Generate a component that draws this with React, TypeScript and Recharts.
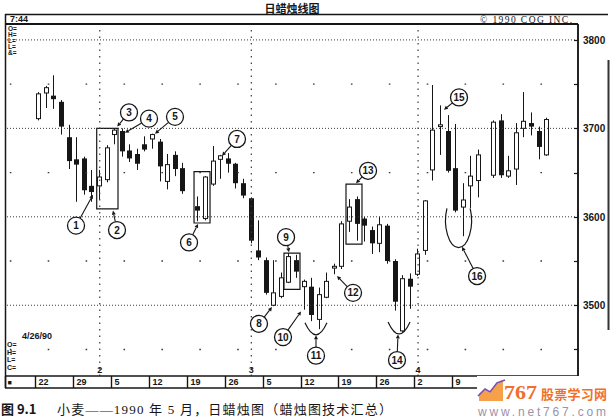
import React from 'react';
import {
  ComposedChart,
  Bar,
  XAxis,
  YAxis,
  ReferenceLine,
  ReferenceArea,
  ReferenceDot,
} from 'recharts';

const W = 610;
const H = 420;
const INK = '#161616';
const SANS = '"Liberation Sans", Arial, sans-serif';
const CJK = '"Noto Sans CJK SC", sans-serif';

// May 1990 wheat, one bar per trading day from Jan 22 to Apr 25 (null = market closed)
const opens = [
  3711, 3740, 3737, 3730, 3690, 3665, 3666, 3635, 3635, 3642,
  3693, 3697, 3675, 3671, 3682, 3688, 3685, 3640, 3670, 3655,
  null, 3612, 3598, 3637, 3665, 3666, 3660, 3638, 3621, 3562,
  3551, 3500, 3510, 3526, 3551, 3521, 3521, 3484, 3509, 3542,
  3544, 3595, 3620, 3598, 3585, 3570, 3590, 3550, 3471, 3530,
  3535, 3562, 3653, 3702, 3697, 3655, 3611, 3635, 3641, null,
  3647, 3709, 3646, 3654, 3700, 3706, 3697, 3670,
];
const highs = [
  3741, 3748, 3760, 3732, 3704, 3690, 3668, 3653, 3653, 3681,
  3700, 3700, 3682, 3677, 3691, 3694, 3688, 3671, 3674, 3661,
  null, 3623, 3646, 3680, 3670, 3672, 3661, 3643, 3622, 3596,
  3554, 3551, 3537, 3559, 3557, 3529, 3531, 3520, 3537, 3547,
  3595, 3620, 3623, 3600, 3589, 3600, 3592, 3552, 3534, 3536,
  3564, 3619, 3749, 3726, 3715, 3705, 3638, 3669, 3676, null,
  3709, 3716, 3669, 3706, 3741, 3718, 3702, 3712,
];
const lows = [
  3709, 3723, 3722, 3693, 3654, 3617, 3625, 3617, 3619, 3639,
  3682, 3668, 3662, 3653, 3674, 3677, 3640, 3631, 3646, 3626,
  null, 3595, 3596, 3635, 3643, 3650, 3632, 3621, 3570, 3551,
  3512, 3499, 3508, 3525, 3531, 3495, 3482, 3473, 3508, 3535,
  3541, 3583, 3573, 3572, 3558, 3560, 3547, 3494, 3470, 3496,
  3533, 3557, 3641, 3670, 3650, 3605, 3578, 3610, 3622, null,
  3644, 3644, 3644, 3636, 3690, 3692, 3665, 3669,
];
const closes = [
  3739, 3746, 3733, 3702, 3663, 3659, 3630, 3628, 3645, 3678,
  3698, 3674, 3666, 3660, 3676, 3693, 3657, 3659, 3654, 3629,
  null, 3607, 3645, 3663, 3669, 3660, 3638, 3624, 3573, 3554,
  3514, 3514, 3531, 3555, 3538, 3527, 3489, 3512, 3527, 3544,
  3592, 3611, 3592, 3590, 3570, 3591, 3550, 3504, 3530, 3521,
  3558, 3618, 3698, 3704, 3652, 3607, 3619, 3646, 3670, null,
  3707, 3647, 3652, 3695, 3708, 3702, 3679, 3710,
];

const leadSlots = 4; // the empty week of Jan 15 before the first bar
const slotSpan = 75.6;

const weekLabels = ['■', '22', '29', '5', '12', '19', '26', '5', '12', '19', '26', '2', '9'];
const weekStarts = weekLabels.map((_, k) => (k === 0 ? 0 : leadSlots + 5 * (k - 1)));
const monthLabels = ['2', '3', '4'];
const monthFirstDay = [8, 28, 50];
const priceLabels = [3500, 3600, 3700, 3800];
const halfLevels = [3450, 3550, 3650, 3750];
const priceMarks = [3450, 3500, 3550, 3600, 3650, 3700, 3750, 3800];

// circled notes: circle position and the point the leader marks, as [slot, price]
const callouts = [
  { n: 1, at: [9.37, 3590], to: [11.61, 3625] },
  { n: 2, at: [14.78, 3585], to: [14.25, 3607] },
  { n: 3, at: [16.36, 3718], to: [14.8, 3702] },
  { n: 4, at: [19.0, 3711], to: [15.83, 3695] },
  { n: 5, at: [22.43, 3713], to: [19.79, 3694] },
  { n: 6, at: [24.28, 3571], to: [25.47, 3592] },
  { n: 7, at: [30.61, 3688], to: [28.63, 3669] },
  { n: 8, at: [33.51, 3479], to: [35.23, 3498] },
  { n: 9, at: [37.08, 3577], to: [37.47, 3560] },
  { n: 10, at: [36.68, 3464], to: [39.06, 3493] },
  { n: 11, at: [41.03, 3443], to: [41.03, 3466] },
  { n: 12, at: [45.92, 3514], to: [43.8, 3533] },
  { n: 13, at: [47.9, 3652], to: [46.31, 3638] },
  { n: 14, at: [51.72, 3438], to: [51.85, 3467] },
  { n: 15, at: [59.9, 3735], to: [57.92, 3721] },
  { n: 16, at: [62.28, 3533], to: [60.3, 3566] },
];
// boxed patterns: [slotFrom, slotTo, priceLow, priceHigh]
const boxes = [
  [12.1, 14.91, 3609, 3700],
  [24.94, 27.05, 3593, 3651],
  [36.81, 38.92, 3518, 3559],
  [44.99, 47.1, 3569, 3637],
];
const cups = [
  [41.03, 3479],
  [51.99, 3480],
];
const loop = [59.84, 3596];

type Candle = {
  slot: number;
  range: [number, number];
  open: number;
  high: number;
  low: number;
  close: number;
};

const candles: Candle[] = [];
opens.forEach((o, i) => {
  if (o == null) return;
  candles.push({
    slot: leadSlots + i + 0.5,
    range: [lows[i] as number, highs[i] as number],
    open: o,
    high: highs[i] as number,
    low: lows[i] as number,
    close: closes[i] as number,
  });
});

function CandleShape(props: any) {
  const { x, y, width, height, payload } = props;
  if (!payload || x == null || y == null) return null;
  const { open, close, high, low } = payload;
  const yTop = Math.min(y, y + height);
  const yBot = Math.max(y, y + height);
  const span = high - low || 1;
  const py = (v: number) => yTop + ((high - v) / span) * (yBot - yTop);
  const cx = Math.floor(x + width / 2);
  const bTop = py(Math.max(open, close));
  const bBot = Math.max(py(Math.min(open, close)), bTop + 1.5);
  const up = close >= open;
  return (
    <g>
      <line x1={cx + 0.5} x2={cx + 0.5} y1={yTop} y2={yBot} stroke={INK} strokeWidth={1} />
      {up ? (
        <rect x={cx - 1.5} y={bTop} width={4} height={bBot - bTop} fill="#fff" stroke={INK} strokeWidth={1} />
      ) : (
        <rect x={cx - 2} y={bTop} width={5} height={bBot - bTop} fill={INK} />
      )}
    </g>
  );
}

function calloutShape(n: number) {
  return (p: any) => {
    const { x1, y1, x2, y2 } = p;
    if (x1 == null || y1 == null) return <g />;
    const dx = x2 - x1;
    const dy = y2 - y1;
    const len = Math.hypot(dx, dy) || 1;
    const ux = dx / len;
    const uy = dy / len;
    const r = 8.5;
    const sx = x1 + ux * r;
    const sy = y1 + uy * r;
    const bx = x2 - ux * 4;
    const by = y2 - uy * 4;
    const head = `${x2},${y2} ${bx - uy * 2},${by + ux * 2} ${bx + uy * 2},${by - ux * 2}`;
    return (
      <g>
        <line x1={sx} y1={sy} x2={bx} y2={by} stroke={INK} strokeWidth={1.1} />
        <polygon points={head} fill={INK} />
        <circle cx={x1} cy={y1} r={r} fill="#fff" stroke={INK} strokeWidth={1.3} />
        <text
          x={x1}
          y={y1 + 3.6}
          textAnchor="middle"
          fontSize={10}
          fontWeight={700}
          fontFamily={SANS}
          fill={INK}
        >
          {n}
        </text>
      </g>
    );
  };
}

const Cup = (p: any) => (
  <path
    d={`M${p.cx - 11},${p.cy - 1} Q${p.cx},${p.cy + 23} ${p.cx + 11},${p.cy - 1}`}
    fill="none"
    stroke={INK}
    strokeWidth={1.2}
  />
);

const Loop = (p: any) => (
  <path
    d={`M${p.cx - 11.6},${p.cy - 12} A13 27 0 1 0 ${p.cx + 11.6},${p.cy - 12}`}
    fill="none"
    stroke={INK}
    strokeWidth={1.2}
  />
);

const WeekCell = (p: any) => {
  const k = weekStarts.indexOf(p.payload.value);
  const px = Math.round(p.x) + 0.5;
  const first = k === 0;
  return (
    <g>
      <line x1={px} x2={px} y1={p.y} y2={p.y + 12} stroke={INK} strokeWidth={1.4} />
      <text
        x={px + (first ? 2 : 3)}
        y={p.y + 9}
        fontSize={first ? 7 : 9}
        fontWeight={700}
        fontFamily={SANS}
        fill={INK}
      >
        {weekLabels[k]}
      </text>
    </g>
  );
};

const PriceTick = (p: any) => {
  const v = p.payload.value;
  const yy = Math.round(p.y) + 0.5;
  return (
    <g>
      <line x1={p.x - 4} x2={p.x} y1={yy} y2={yy} stroke={INK} strokeWidth={1.2} />
      {priceLabels.includes(v) && (
        <text x={p.x + 5} y={p.y + 4} fontSize={10} fontWeight={700} fontFamily={SANS} fill={INK}>
          {v}
        </text>
      )}
    </g>
  );
};

const txt = { fontFamily: SANS, fontWeight: 700, fill: INK } as const;

export default function App() {
  return (
    <div style={{ position: 'absolute', left: 0, top: 0, width: W, height: H, background: '#fff' }}>
      <ComposedChart
        width={W}
        height={H}
        data={candles}
        margin={{ top: 24, right: 0, bottom: 0, left: 5 }}
      >
        <XAxis
          type="number"
          dataKey="slot"
          domain={[0, slotSpan]}
          allowDataOverflow
          ticks={weekStarts}
          interval={0}
          tick={(p: any) => <WeekCell {...p} />}
          tickSize={0}
          tickMargin={0}
          tickLine={false}
          height={44}
          axisLine={{ stroke: INK, strokeWidth: 1.5 }}
        />
        <YAxis
          orientation="right"
          type="number"
          domain={[3420, 3818]}
          allowDataOverflow
          ticks={priceMarks}
          interval={0}
          tick={(p: any) => <PriceTick {...p} />}
          tickSize={0}
          tickMargin={0}
          tickLine={false}
          width={32}
          axisLine={{ stroke: INK, strokeWidth: 1.5 }}
        />

        {priceLabels.map((v) => (
          <ReferenceLine key={`g${v}`} y={v} stroke="#3a3a3a" strokeDasharray="1 2" />
        ))}
        {halfLevels.map((v) => (
          <ReferenceLine
            key={`h${v}`}
            y={v}
            stroke="#3a3a3a"
            strokeWidth={1.4}
            strokeDasharray="1.6 36.3"
            strokeDashoffset={1.9}
          />
        ))}
        {monthFirstDay.map((d, k) => (
          <ReferenceLine
            key={`m${d}`}
            x={leadSlots + d + 0.5}
            stroke="#3a3a3a"
            strokeWidth={1.2}
            strokeDasharray="1.5 5"
            label={{
              value: monthLabels[k],
              position: 'insideBottom',
              offset: 3,
              fontSize: 9,
              fontWeight: 700,
              fontFamily: SANS,
              fill: INK,
            }}
          />
        ))}

        <Bar dataKey="range" barSize={5} shape={CandleShape} isAnimationActive={false} />

        {boxes.map(([a, b, lo, hi], k) => (
          <ReferenceArea
            key={`b${k}`}
            x1={a}
            x2={b}
            y1={lo}
            y2={hi}
            fill="none"
            fillOpacity={0}
            stroke={INK}
            strokeWidth={1.2}
          />
        ))}
        {cups.map(([s, v], k) => (
          <ReferenceDot key={`c${k}`} x={s} y={v} r={1} shape={Cup} />
        ))}
        <ReferenceDot x={loop[0]} y={loop[1]} r={1} shape={Loop} />
        {callouts.map((c) => (
          <ReferenceLine
            key={`n${c.n}`}
            segment={[
              { x: c.at[0], y: c.at[1] },
              { x: c.to[0], y: c.to[1] },
            ]}
            shape={calloutShape(c.n)}
          />
        ))}
      </ComposedChart>

      <svg
        width={W}
        height={H}
        style={{ position: 'absolute', left: 0, top: 0, pointerEvents: 'none' }}
      >
        {/* frame */}
        <line x1={5} x2={608} y1={14.5} y2={14.5} stroke={INK} strokeWidth={1.5} />
        <line x1={5} x2={578} y1={24} y2={24} stroke={INK} strokeWidth={2} />
        <line x1={5.5} x2={5.5} y1={14} y2={388} stroke={INK} strokeWidth={1.5} />
        <line x1={578} x2={578} y1={24} y2={388} stroke={INK} strokeWidth={1.5} />
        <line x1={5} x2={578} y1={388} y2={388} stroke={INK} strokeWidth={1.5} />
        <line x1={608.5} x2={608.5} y1={60} y2={330} stroke="#333" strokeWidth={2} />

        <text x={292} y={12.5} textAnchor="middle" fontFamily={CJK} fontWeight={700} fontSize={11} fill={INK}>
          日蜡烛线图
        </text>
        <text x={10} y={21.5} fontSize={9} {...txt}>
          7:44
        </text>
        <text x={480} y={22.5} fontFamily='"Liberation Serif", serif' fontSize={9.5} fill={INK} textLength={92}>
          © 1990 CQG INC.
        </text>

        {['O=', 'H=', 'L=', 'L=', '&='].map((s, k) => (
          <text key={`t${k}`} x={8} y={31 + k * 6} fontSize={6.5} {...txt}>
            {s}
          </text>
        ))}
        {['O=', 'H=', 'L=', 'C='].map((s, k) => (
          <text key={`u${k}`} x={7} y={347 + k * 7.7} fontSize={7} {...txt}>
            {s}
          </text>
        ))}
        <text x={22} y={339} fontSize={9} {...txt}>
          4/26/90
        </text>

        {/* site mark in the lower right corner */}
        <rect x={477} y={376} width={133} height={44} fill="#fff" />
        <polygon points="479,401 479,394 485,390 490,393 497,384 503,381 503,401" fill="#f6a04a" />
        <polyline
          points="478,396 485,389 490,392 497,383 505,380"
          fill="none"
          stroke="#7c4fa6"
          strokeWidth={1.6}
        />
        <text
          x={504}
          y={399}
          fontFamily='"Liberation Serif", serif'
          fontWeight={700}
          fontSize={18}
          fill="#ef6f2b"
          textLength={33}
          lengthAdjust="spacingAndGlyphs"
        >
          767
        </text>
        <text x={541} y={399} fontFamily={CJK} fontWeight={700} fontSize={13} fill="#ef6f2b" textLength={66}>
          股票学习网
        </text>
        <text
          x={478}
          y={416}
          fontFamily={SANS}
          fontSize={12}
          fill="#9a93a8"
          textLength={128}
          lengthAdjust="spacing"
        >
          www.net767.com
        </text>

        {/* caption */}
        <text x={1} y={414} fontFamily={CJK} fontWeight={700} fontSize={13} fill={INK}>
          图 9.1
        </text>
        <text
          x={57}
          y={414}
          fontFamily={'"Liberation Serif", "Noto Sans CJK SC", serif'}
          fontSize={13}
          fill={INK}
          textLength={335}
          lengthAdjust="spacing"
        >
          小麦——1990 年 5 月，日蜡烛图（蜡烛图技术汇总）
        </text>
      </svg>
    </div>
  );
}
